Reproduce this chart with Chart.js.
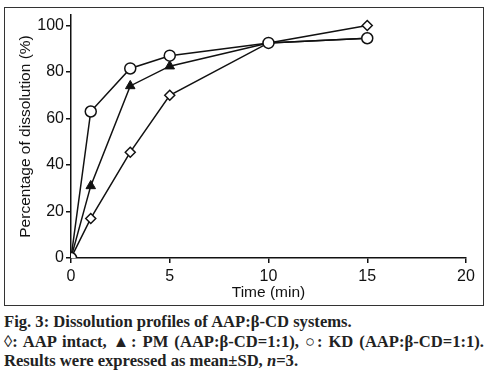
<!DOCTYPE html>
<html>
<head>
<meta charset="utf-8">
<script src="https://cdn.jsdelivr.net/npm/chart.js@4"></script>
<style>
  body { margin: 0; background: #fff; width: 490px; height: 392px; position: relative; overflow: hidden; }
  .frame { position: absolute; left: 4px; top: 7px; width: 478px; height: 297px; border: 1px solid #333; }
  .plot { position: absolute; left: 0; top: 0; width: 490px; height: 306px; }
  .caption { position: absolute; left: 4px; top: 312px; width: 480px; font: bold 16.6px "Liberation Serif", serif; line-height: 19.5px; color: #222; }
  .caption .just { text-align: justify; text-align-last: justify; }
</style>
</head>
<body>
<div class="frame"></div>
<div class="plot"><canvas id="myChart"></canvas></div>
<div class="caption">
  <div>Fig. 3: Dissolution profiles of AAP:β-CD systems.</div>
  <div class="just">◊: AAP intact, ▲: PM (AAP:β-CD=1:1), ○: KD (AAP:β-CD=1:1).</div>
  <div>Results were expressed as mean±SD, <i>n</i>=3.</div>
</div>
<script>
/* Data */
const times = [0, 1, 3, 5, 10, 15];
const aapIntact = [0, 17, 45.5, 70, 92.5, 100];
const pmValues = [0, 31, 74, 82.5, 92.5, 94.5];
const kdValues = [0, 63, 81.5, 87, 92.5, 94.5];
const xTicks = [0, 5, 10, 15, 20];
const yTicks = [0, 20, 40, 60, 80, 100];

function toPoints (values) {
  return times.map(function (t, i) { return { x: t, y: values[i] }; });
}

var ctx = document.getElementById('myChart').getContext('2d');

var chart = new Chart(ctx, {
  type: 'scatter',
  data: {
    datasets: [{
      label: 'AAP intact',
      data: toPoints(aapIntact),
      showLine: true,
      borderColor: '#111',
      borderWidth: 1.5,
      pointStyle: 'rectRot',
      pointRadius: 5,
      pointBackgroundColor: '#fff',
      pointBorderColor: '#111',
      pointBorderWidth: 1.5,
      order: 3
    },
    {
      label: 'PM',
      data: toPoints(pmValues),
      showLine: true,
      borderColor: '#111',
      borderWidth: 1.5,
      pointStyle: 'triangle',
      pointRadius: 5.5,
      pointBackgroundColor: '#111',
      pointBorderColor: '#111',
      pointBorderWidth: 1,
      order: 2
    },
    {
      label: 'KD',
      data: toPoints(kdValues),
      showLine: true,
      borderColor: '#111',
      borderWidth: 1.5,
      pointStyle: 'circle',
      pointRadius: 5.5,
      pointBackgroundColor: '#fff',
      pointBorderColor: '#111',
      pointBorderWidth: 1.5,
      order: 1
    }]
  },
  options: {
    responsive: true,
    maintainAspectRatio: false,
    animation: false,
    layout: { padding: { left: 0, right: 24, top: 15, bottom: 0 } },
    plugins: { legend: { display: false }, tooltip: { enabled: false } },
    scales: {
      x: {
        type: 'linear',
        min: 0,
        max: 20,
        afterBuildTicks: function (scale) { scale.ticks = xTicks.map(function (v) { return { value: v }; }); },
        afterFit: function (scale) { scale.height = 48; },
        border: { display: true, color: '#111', width: 1.5 },
        grid: { display: true, drawOnChartArea: false, drawTicks: true, tickLength: 5, color: '#111', lineWidth: 1.5 },
        ticks: { color: '#111', padding: 4, font: { family: 'Liberation Sans', size: 16 }, maxRotation: 0 },
        title: { display: true, text: 'Time (min)', color: '#111', padding: { top: 4, bottom: 4 }, font: { family: 'Liberation Sans', size: 15.5 } }
      },
      y: {
        min: 0,
        max: 104.5,
        afterBuildTicks: function (scale) { scale.ticks = yTicks.map(function (v) { return { value: v }; }); },
        afterFit: function (scale) { scale.width = 71; },
        border: { display: true, color: '#111', width: 1.5 },
        grid: { display: true, drawOnChartArea: false, drawTicks: true, tickLength: 5, color: '#111', lineWidth: 1.5 },
        ticks: { color: '#111', padding: 2, font: { family: 'Liberation Sans', size: 16 } },
        title: { display: true, text: 'Percentage of dissolution (%)', color: '#111', padding: { top: 16, bottom: 4 }, font: { family: 'Liberation Sans', size: 15.5 } }
      }
    }
  }
});
</script>
</body>
</html>
